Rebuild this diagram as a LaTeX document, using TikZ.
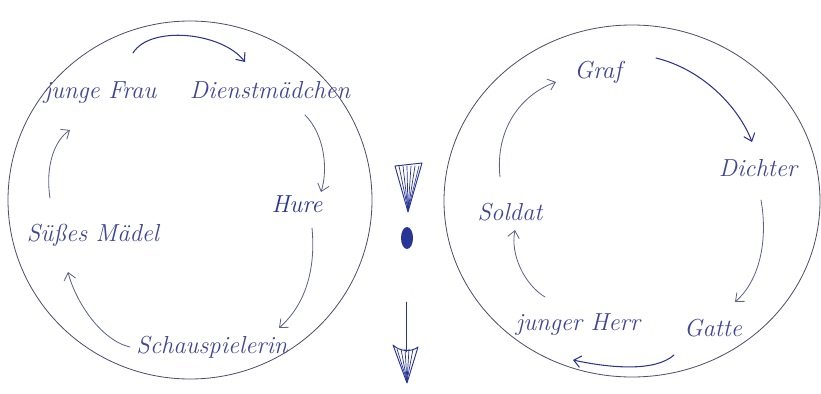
\documentclass[tikz,border=0pt]{standalone}
\usepackage{tikz}
\usetikzlibrary{arrows.meta}

\definecolor{ink}{RGB}{62,70,152}
\definecolor{darkink}{RGB}{40,52,150}
\definecolor{ringgray}{RGB}{78,78,112}
\definecolor{paleink}{RGB}{92,98,140}

\begin{document}
\begin{tikzpicture}[x=0.03cm, y=-0.03cm, line join=round, line cap=round,
    role/.style={text=ink, font=\itshape\fontsize{21}{24}\selectfont, inner sep=1pt},
    ring/.style={draw=ringgray, line width=0.7pt},
    flow/.style={draw=paleink, line width=0.7pt, -{Straight Barb[length=6pt, width=10pt]}},
    boldflow/.style={flow, draw=darkink, line width=0.9pt}]

    \useasboundingbox (0,0) rectangle (821,393);

    % 1. Draw the two circles
    \draw[ring] (190,200) ellipse (182 and 179);
    \draw[ring] (632,201) ellipse (188 and 176);

    % 2. Left circle roles
    \node[role] (JF) at (100,93) {junge Frau};
    \node[role] (DM) at (270,90) {Dienstmädchen};
    \node[role, text=darkink] (HU) at (297,204) {Hure};
    \node[role] (SP) at (212,347) {Schauspielerin};
    \node[role] (SM) at (93,235) {Süßes Mädel};

    % 3. Right circle roles
    \node[role] (GR) at (598,72) {Graf};
    \node[role] (DI) at (758,168) {Dichter};
    \node[role] (SO) at (510,212) {Soldat};
    \node[role] (JH) at (578,325) {junger Herr};
    \node[role] (GA) at (713,328) {Gatte};

    % Arrow ends (left circle)
    \coordinate (JFout) at (133,53);
    \coordinate (DMin) at (245,62);
    \coordinate (DMout) at (305,115);
    \coordinate (HUin) at (321,192);
    \coordinate (HUout) at (312,228);
    \coordinate (SPin) at (279,328);
    \coordinate (SPout) at (130,347);
    \coordinate (SMin) at (68,272);
    \coordinate (SMout) at (50,198);
    \coordinate (JFin) at (70,130);

    % Arrow ends (right circle)
    \coordinate (GRout) at (656,58);
    \coordinate (DIin) at (752,142);
    \coordinate (DIout) at (761,200);
    \coordinate (GAin) at (735,302);
    \coordinate (GAout) at (674,355);
    \coordinate (JHin) at (573,360);
    \coordinate (JHout) at (545,297);
    \coordinate (SOin) at (515,230);
    \coordinate (SOout) at (500,177);
    \coordinate (GRin) at (556,82);

    % 4. Left round
    \draw[boldflow] (JFout) .. controls (150,25) and (222,32) .. (DMin);
    \draw[flow] (DMout) .. controls (325,135) and (328,170) .. (HUin);
    \draw[flow] (HUout) .. controls (316,270) and (305,305) .. (SPin);
    \draw[flow] (SPout) .. controls (100,340) and (75,300) .. (SMin);
    \draw[flow] (SMout) .. controls (45,165) and (55,140) .. (JFin);

    % 5. Right round
    \draw[boldflow] (GRout) .. controls (705,70) and (740,110) .. (DIin);
    \draw[flow] (DIout) .. controls (768,240) and (760,280) .. (GAin);
    \draw[boldflow] (GAout) .. controls (655,372) and (610,368) .. (JHin);
    \draw[flow] (JHout) .. controls (525,285) and (510,255) .. (SOin);
    \draw[flow] (SOout) .. controls (495,130) and (520,95) .. (GRin);

    % 6. Marks between the circles
    \draw[darkink, line width=0.8pt] (395,166) -- (422,163) -- (408,212) -- cycle;
    \foreach \hx in {399,403,407,411,415,419}
        \draw[darkink, line width=0.6pt] (\hx,166) -- (408,210);
    \fill[darkink] (407,238) ellipse (6 and 11);
    \draw[darkink, line width=0.8pt] (406,302) -- (406,352);
    \draw[darkink, line width=0.8pt] (393,345) .. controls (400,352) and (412,352) .. (418,347) -- (407,383) -- cycle;
    \foreach \hx in {397,401,405,409,413}
        \draw[darkink, line width=0.6pt] (\hx,349) -- (407,381);

\end{tikzpicture}
\end{document}
